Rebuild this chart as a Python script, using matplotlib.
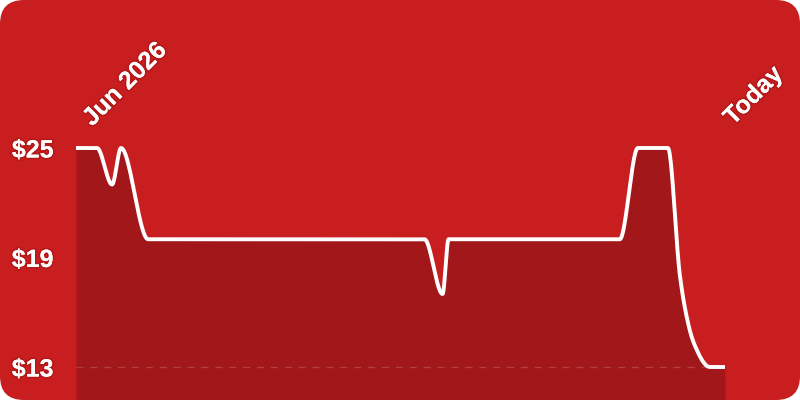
import numpy as np
import matplotlib
matplotlib.use("Agg")
import matplotlib.pyplot as plt
from matplotlib.patches import FancyBboxPatch
from matplotlib.transforms import blended_transform_factory, offset_copy
import matplotlib.patheffects as pe

# ---- data (day offsets since start, price in $) ----
days = [0, 7, 12, 15, 24, 116, 122, 124, 181, 187, 197, 201, 204, 207, 211, 216]
prices = [25, 25, 23, 25, 20, 20, 17, 20, 20, 25, 25, 18, 15.2, 13.8, 13, 13]
y_ticks = [25, 19, 13]
y_tick_labels = ["$25", "$19", "$13"]
start_label = "Jun 2026"
end_label = "Today"

BG = "#C91E1F"
FILL = "#A1171A"


def monotone_x(x, y, n=40):
    x = np.asarray(x, float)
    y = np.asarray(y, float)
    h = np.diff(x)
    s = np.diff(y) / h
    m = np.zeros_like(y)
    for i in range(1, len(x) - 1):
        h0, h1 = h[i - 1], h[i]
        s0, s1 = s[i - 1], s[i]
        p = (s0 * h1 + s1 * h0) / (h0 + h1)
        m[i] = (np.sign(s0) + np.sign(s1)) * min(abs(s0), abs(s1), 0.5 * abs(p))
    m[0] = (3 * s[0] - m[1]) / 2
    m[-1] = (3 * s[-1] - m[-2]) / 2
    xs, ys = [], []
    for i in range(len(x) - 1):
        t = np.linspace(0, 1, n, endpoint=(i == len(x) - 2))
        hh = h[i]
        h00 = 2 * t**3 - 3 * t**2 + 1
        h10 = t**3 - 2 * t**2 + t
        h01 = -2 * t**3 + 3 * t**2
        h11 = t**3 - t**2
        xs.append(x[i] + t * hh)
        ys.append(h00 * y[i] + h10 * hh * m[i] + h01 * y[i + 1] + h11 * hh * m[i + 1])
    return np.concatenate(xs), np.concatenate(ys)


W, H = 800, 400
fig = plt.figure(figsize=(8, 4), dpi=100)
fig.patch.set_facecolor("white")
bg = FancyBboxPatch((0, 0), 1, 1, boxstyle="round,pad=0,rounding_size=0.03",
                    transform=fig.transFigure, facecolor=BG, edgecolor="none",
                    mutation_aspect=2, zorder=-10)
fig.patches.append(bg)

# axes in pixel layout
left_px, right_px, top_px, bottom_px = 76, 725, 100, 400
ax = fig.add_axes([left_px / W, 1 - bottom_px / H, (right_px - left_px) / W,
                   (bottom_px - top_px) / H])
ax.set_zorder(5)
ax.set_facecolor("none")
for sp in ax.spines.values():
    sp.set_visible(False)
ax.set_xticks([])
ax.set_yticks([])

# y scale: $25 at 148px, $13 at 367px
px_per = (367 - 148) / (y_ticks[0] - y_ticks[-1])
ytop = y_ticks[0] + (148 - top_px) / px_per
ybot = y_ticks[-1] - (bottom_px - 367) / px_per
ax.set_ylim(ybot, ytop)
ax.set_xlim(days[0], days[-1])

cx, cy = monotone_x(days, prices)
ax.fill_between(cx, cy, ybot, color=FILL, linewidth=0, zorder=1)
ax.axhline(y_ticks[-1], color="#B84A4A", lw=1, ls=(0, (5, 5)), alpha=0.8, zorder=2)
ax.plot(cx, cy, color="white", lw=2.8, solid_capstyle="butt", solid_joinstyle="round",
        zorder=3, clip_on=False)

fp = dict(family="Liberation Sans", weight="bold", color="white", fontsize=18)
txt_fx = [pe.withStroke(linewidth=2.5, foreground="#7a0a0a", alpha=0.25), pe.Normal()]

ytrans = blended_transform_factory(fig.transFigure, ax.transData)
for v, lab in zip(y_ticks, y_tick_labels):
    t = ax.text(53.5 / W, v, lab, transform=ytrans, ha="right", va="center_baseline", **fp)
    t.set_path_effects(txt_fx)

xtrans = blended_transform_factory(ax.transData, fig.transFigure)
t1 = ax.text(days[0], 1 - 127 / H, start_label,
             transform=offset_copy(xtrans, fig=fig, x=16, y=0, units="dots"),
             rotation=45, rotation_mode="anchor", ha="left", va="baseline", **fp)
t2 = ax.text(days[-1], 1 - 126 / H, end_label,
             transform=offset_copy(xtrans, fig=fig, x=8, y=0, units="dots"),
             rotation=45, rotation_mode="anchor", ha="left", va="baseline", **fp)
for t in (t1, t2):
    t.set_path_effects(txt_fx)

fig.savefig("out.png", dpi=100, facecolor=fig.get_facecolor())
